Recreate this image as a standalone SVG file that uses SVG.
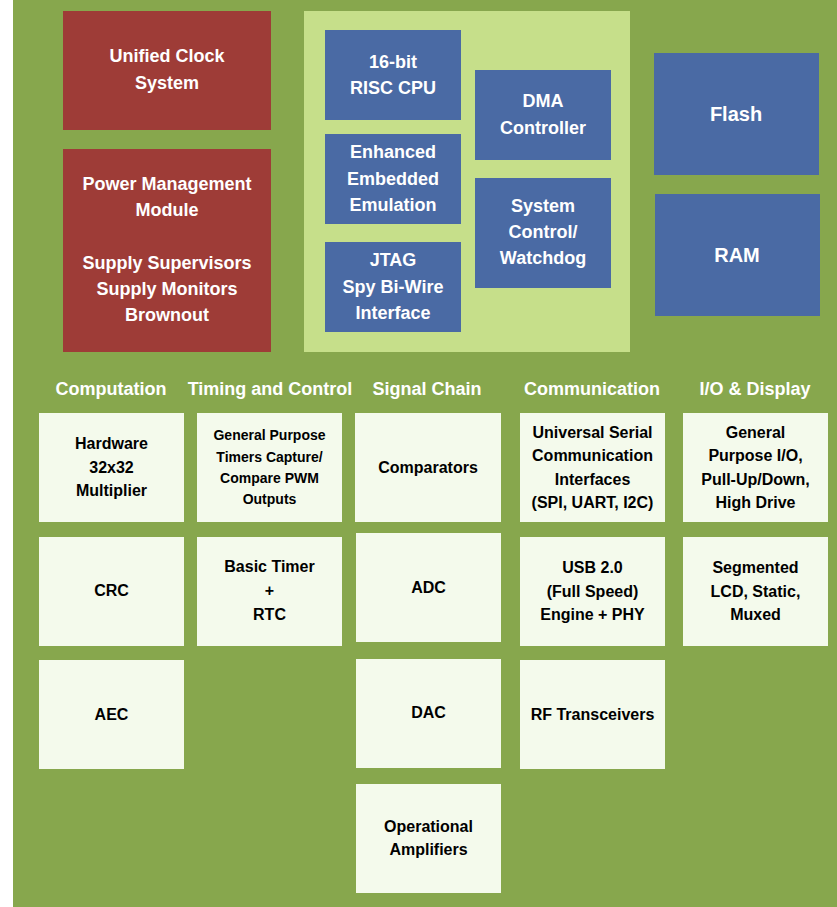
<svg xmlns="http://www.w3.org/2000/svg" width="837" height="907" viewBox="0 0 837 907">
<style>
.bg{fill:#87A74D}
.red{fill:#9E3C37}
.panel{fill:#C6DF8A}
.blue{fill:#4A6AA4}
.pale{fill:#F4FAEC}
text{font-family:"Liberation Sans",Arial,sans-serif;font-weight:bold;text-anchor:middle}
.w{fill:#FFFFFF;font-size:18px}
.w20{fill:#FFFFFF;font-size:20px}
.hd{fill:#FFFFFF;font-size:18px}
.k{fill:#000000;font-size:16px}
.k14{fill:#000000;font-size:14px}
</style>
<rect x="0" y="0" width="837" height="907" fill="#FFFFFF"/>
<rect class="bg" x="13" y="0" width="824" height="907"/>

<g id="unified-clock">
<rect class="red" x="63" y="11" width="208" height="119"/>
<text class="w" x="167" y="62">Unified Clock</text>
<text class="w" x="167" y="89">System</text>
</g>
<g id="power-management">
<rect class="red" x="63" y="149" width="208" height="203"/>
<text class="w" x="167" y="190">Power Management</text>
<text class="w" x="167" y="216">Module</text>
<text class="w" x="167" y="269">Supply Supervisors</text>
<text class="w" x="167" y="295">Supply Monitors</text>
<text class="w" x="167" y="321">Brownout</text>
</g>

<g id="core-panel">
<rect class="panel" x="304" y="11" width="326" height="341"/>
</g>
<g id="cpu">
<rect class="blue" x="325" y="30" width="136" height="90"/>
<text class="w" x="393" y="68">16-bit</text>
<text class="w" x="393" y="94">RISC CPU</text>
</g>
<g id="eem">
<rect class="blue" x="325" y="134" width="136" height="90"/>
<text class="w" x="393" y="158">Enhanced</text>
<text class="w" x="393" y="185">Embedded</text>
<text class="w" x="393" y="211">Emulation</text>
</g>
<g id="jtag">
<rect class="blue" x="325" y="242" width="136" height="90"/>
<text class="w" x="393" y="266">JTAG</text>
<text class="w" x="393" y="293">Spy Bi-Wire</text>
<text class="w" x="393" y="319">Interface</text>
</g>
<g id="dma">
<rect class="blue" x="475" y="70" width="136" height="90"/>
<text class="w" x="543" y="107">DMA</text>
<text class="w" x="543" y="134">Controller</text>
</g>
<g id="system-control">
<rect class="blue" x="475" y="178" width="136" height="110"/>
<text class="w" x="543" y="212">System</text>
<text class="w" x="543" y="238">Control/</text>
<text class="w" x="543" y="264">Watchdog</text>
</g>
<g id="flash">
<rect class="blue" x="654" y="53" width="165" height="122"/>
<text class="w20" x="736" y="121">Flash</text>
</g>
<g id="ram">
<rect class="blue" x="655" y="194" width="165" height="122"/>
<text class="w20" x="737" y="262">RAM</text>
</g>

<g id="headers">
<text class="hd" x="111" y="395">Computation</text>
<text class="hd" x="270" y="395">Timing and Control</text>
<text class="hd" x="427" y="395">Signal Chain</text>
<text class="hd" x="592" y="395">Communication</text>
<text class="hd" x="755" y="395">I/O &amp; Display</text>
</g>

<g id="hw-multiplier">
<rect class="pale" x="39" y="413" width="145" height="109"/>
<text class="k" x="111.5" y="449">Hardware</text>
<text class="k" x="111.5" y="473">32x32</text>
<text class="k" x="111.5" y="496">Multiplier</text>
</g>
<g id="crc">
<rect class="pale" x="39" y="537" width="145" height="109"/>
<text class="k" x="111.5" y="596">CRC</text>
</g>
<g id="aec">
<rect class="pale" x="39" y="660" width="145" height="109"/>
<text class="k" x="111.5" y="720">AEC</text>
</g>

<g id="timers">
<rect class="pale" x="197" y="413" width="145" height="109"/>
<text class="k14" x="269.5" y="440">General Purpose</text>
<text class="k14" x="269.5" y="462">Timers Capture/</text>
<text class="k14" x="269.5" y="483">Compare PWM</text>
<text class="k14" x="269.5" y="504">Outputs</text>
</g>
<g id="basic-timer">
<rect class="pale" x="197" y="537" width="145" height="109"/>
<text class="k" x="269.5" y="572">Basic Timer</text>
<text class="k" x="269.5" y="596">+</text>
<text class="k" x="269.5" y="620">RTC</text>
</g>

<g id="comparators">
<rect class="pale" x="355" y="413" width="146" height="109"/>
<text class="k" x="428" y="473">Comparators</text>
</g>
<g id="adc">
<rect class="pale" x="356" y="533" width="145" height="109"/>
<text class="k" x="428.5" y="593">ADC</text>
</g>
<g id="dac">
<rect class="pale" x="356" y="659" width="145" height="109"/>
<text class="k" x="428.5" y="718">DAC</text>
</g>
<g id="op-amps">
<rect class="pale" x="356" y="784" width="145" height="109"/>
<text class="k" x="428.5" y="832">Operational</text>
<text class="k" x="428.5" y="855">Amplifiers</text>
</g>

<g id="usci">
<rect class="pale" x="520" y="413" width="145" height="109"/>
<text class="k" x="592.5" y="438">Universal Serial</text>
<text class="k" x="592.5" y="461">Communication</text>
<text class="k" x="592.5" y="485">Interfaces</text>
<text class="k" x="592.5" y="508">(SPI, UART, I2C)</text>
</g>
<g id="usb">
<rect class="pale" x="520" y="537" width="145" height="109"/>
<text class="k" x="592.5" y="573">USB 2.0</text>
<text class="k" x="592.5" y="597">(Full Speed)</text>
<text class="k" x="592.5" y="620">Engine + PHY</text>
</g>
<g id="rf">
<rect class="pale" x="520" y="660" width="145" height="109"/>
<text class="k" x="592.5" y="720">RF Transceivers</text>
</g>

<g id="gpio">
<rect class="pale" x="683" y="413" width="145" height="109"/>
<text class="k" x="755.5" y="438">General</text>
<text class="k" x="755.5" y="461">Purpose I/O,</text>
<text class="k" x="755.5" y="485">Pull-Up/Down,</text>
<text class="k" x="755.5" y="508">High Drive</text>
</g>
<g id="lcd">
<rect class="pale" x="683" y="537" width="145" height="109"/>
<text class="k" x="755.5" y="573">Segmented</text>
<text class="k" x="755.5" y="597">LCD, Static,</text>
<text class="k" x="755.5" y="620">Muxed</text>
</g>

<g id="connectors"></g>
</svg>
